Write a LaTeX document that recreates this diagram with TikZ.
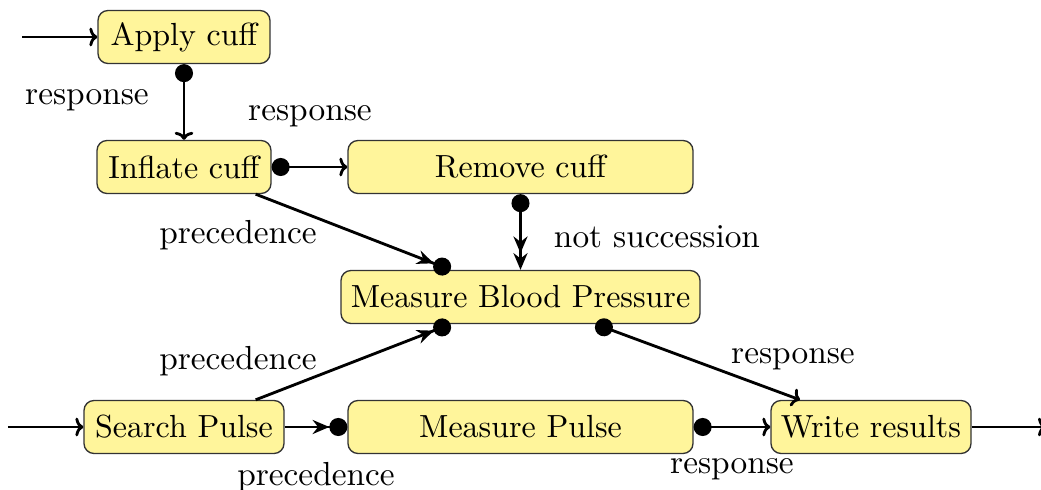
\documentclass[tikz,border=0pt]{standalone}
\usetikzlibrary{arrows.meta,calc}
\definecolor{boxfill}{RGB}{255,245,155}
\tikzset{
  act/.style={draw=black!80, line width=0.4pt, fill=boxfill, rounded corners=3pt,
    minimum height=15.9pt, inner sep=0pt, font=\fontsize{9.6}{11}\selectfont},
  con/.style={line width=0.85pt},
  lbl/.style={inner sep=0pt, font=\normalsize}
}
\begin{document}
\begin{tikzpicture}[x=0.3pt,y=-0.3pt,
  >={To[length=2.4pt,width=5.6pt]}]
\useasboundingbox (0,0) rectangle (1041,490);
% nodes
\node[act, minimum width=51.6pt] (ac) at (184,37) {Apply cuff};
\node[act, minimum width=52.2pt] (ic) at (184,167) {Inflate cuff};
\node[act, minimum width=103.5pt] (rc) at (520.5,167) {Remove cuff};
\node[act, minimum width=107.7pt] (mbp) at (520.5,297) {Measure Blood Pressure};
\node[act, minimum width=60pt] (sp) at (184,427) {Search Pulse};
\node[act, minimum width=103.5pt] (mp) at (520.5,427) {Measure Pulse};
\node[act, minimum width=60pt] (wr) at (871,427) {Write results};
% free ends
\coordinate (in1) at (22,37);
\coordinate (in2) at (8,427);
\coordinate (out) at (1046,427);
% connectors
\draw[con, ->] (in1) -- (ac.west);
\draw[con, {Circle[length=5.4pt]}->] (ac.south) -- (ic.north);
\draw[con, {Circle[length=5.4pt]}->] (ic.east) -- (rc.west);
\draw[con, -{Stealth[length=5pt,width=4.2pt] Circle[length=5.4pt]}] ($(ic.south east)+(-16,0)$) -- ($(mbp.north)+(-70,0)$);
\draw[con, {Circle[length=5.4pt]}-{Stealth[length=5pt,width=4.2pt] Stealth[length=5pt,width=4.2pt]}] (rc.south) -- (mbp.north);
\draw[con, -{Stealth[length=5pt,width=4.2pt] Circle[length=5.4pt]}] ($(sp.north east)+(-29,0)$) -- ($(mbp.south)+(-70,0)$);
\draw[con, {Circle[length=5.4pt]}->] ($(mbp.south)+(75,0)$) -- ($(wr.north)+(-71,0)$);
\draw[con, ->] (in2) -- (sp.west);
\draw[con, -{Stealth[length=5pt,width=4.2pt] Circle[length=5.4pt]}] (sp.east) -- (mp.west);
\draw[con, {Circle[length=5.4pt]}->] (mp.east) -- (wr.west);
\draw[con, ->] (wr.east) -- (out);
% labels
\node[lbl] (l1) at (87,100) {response};
\node[lbl] (l2) at (310,116) {response};
\node[lbl] (l3) at (238,235) {precedence};
\node[lbl] (l4) at (657,237) {not succession};
\node[lbl] (l5) at (238,361) {precedence};
\node[lbl] (l6) at (793,359) {response};
\node[lbl] (l7) at (316,477) {precedence};
\node[lbl] (l8) at (732,469) {response};
\end{tikzpicture}
\end{document}
